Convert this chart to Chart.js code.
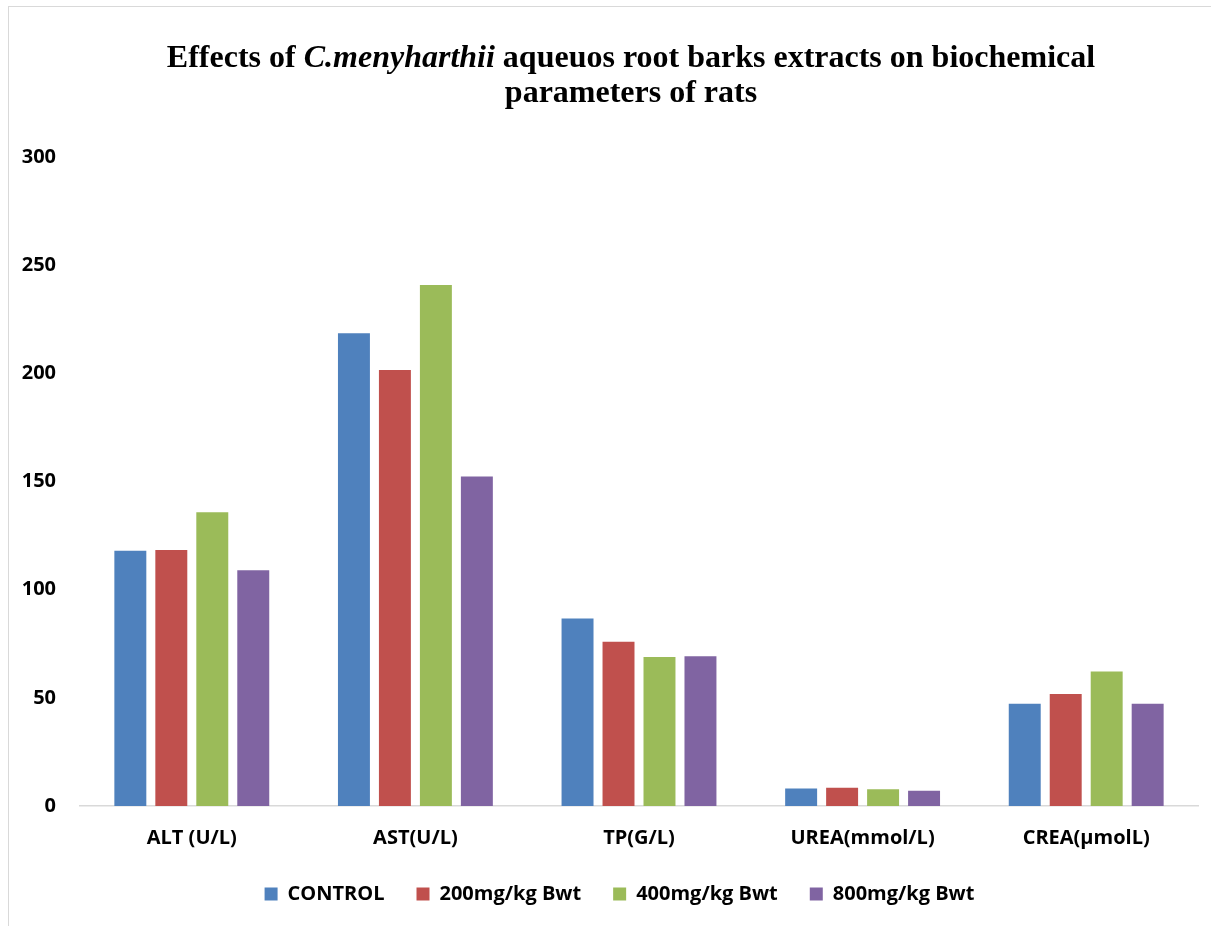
<!DOCTYPE html>
<html>
<head>
<meta charset="utf-8">
<title>Biochemical parameters of rats</title>
<script src="https://cdn.jsdelivr.net/npm/chart.js@4/dist/chart.umd.min.js"></script>
<style>
  html, body { margin: 0; padding: 0; background: #ffffff; }
  #wrap { position: relative; width: 1211px; height: 926px; }
</style>
</head>
<body>
<div id="wrap"><canvas id="chart"></canvas></div>
<script>
// Parameters measured
const categories = ['ALT (U/L)', 'AST(U/L)', 'TP(G/L)', 'UREA(mmol/L)', 'CREA(µmolL)'];

// Group means per treatment
const controlValues = [118.0, 218.5, 86.7, 8.1, 47.3];
const dose200Values = [118.3, 201.5, 75.9, 8.4, 51.8];
const dose400Values = [135.8, 240.8, 68.9, 7.7, 62.2];
const dose800Values = [109.0, 152.3, 69.2, 7.0, 47.3];

const seriesNames = ['CONTROL', '200mg/kg Bwt', '400mg/kg Bwt', '800mg/kg Bwt'];
const seriesColors = ['#4F81BD', '#C0504D', '#9BBB59', '#8064A2'];

// Y axis range and step
const yMin = 0;
const yMax = 300;
const yStep = 50;

// Title, first line mixes upright and italic runs
const titleLine1 = [
  { text: 'Effects of ', italic: false },
  { text: 'C.menyharthii', italic: true },
  { text: ' aqueuos root barks extracts on biochemical', italic: false }
];
const titleLine2 = 'parameters of rats';

const labelFont = { family: '"Open Sans", "DejaVu Sans", sans-serif', size: 20, weight: 'bold' };
const titleFamily = '"Liberation Serif", "Times New Roman", serif';

// Thin frame around the chart area
const framePlugin = {
  id: 'frame',
  beforeDraw(chart) {
    const ctx = chart.ctx;
    ctx.save();
    ctx.fillStyle = '#ffffff';
    ctx.fillRect(0, 0, chart.width, chart.height);
    ctx.strokeStyle = '#d9d9d9';
    ctx.lineWidth = 1;
    ctx.strokeRect(8.5, 6.5, chart.width + 40, chart.height + 40);
    ctx.restore();
  }
};

// Centre the legend row under the plot area rather than the whole canvas
const legendShiftPlugin = {
  id: 'legendShift',
  afterLayout(chart) {
    if (chart.legend) {
      chart.legend.left += 41;
    }
  }
};

// Two-line title with an italic species name
const richTitlePlugin = {
  id: 'richTitle',
  afterDraw(chart) {
    const ctx = chart.ctx;
    const cx = 631;
    ctx.save();
    ctx.fillStyle = '#000000';
    ctx.textBaseline = 'alphabetic';
    ctx.textAlign = 'left';
    const fontFor = (italic) => (italic ? 'italic ' : '') + 'bold 32px ' + titleFamily;
    let total = 0;
    titleLine1.forEach(run => { ctx.font = fontFor(run.italic); total += ctx.measureText(run.text).width; });
    let x = cx - total / 2;
    titleLine1.forEach(run => {
      ctx.font = fontFor(run.italic);
      ctx.fillText(run.text, x, 67);
      x += ctx.measureText(run.text).width;
    });
    ctx.font = fontFor(false);
    ctx.textAlign = 'center';
    ctx.fillText(titleLine2, cx, 102);
    ctx.restore();
  }
};

const datasets = [controlValues, dose200Values, dose400Values, dose800Values].map((values, i) => ({
  label: seriesNames[i],
  data: values,
  backgroundColor: seriesColors[i],
  borderWidth: 0,
  categoryPercentage: 0.733,
  barPercentage: 0.78
}));

new Chart(document.getElementById('chart'), {
  type: 'bar',
  data: { labels: categories, datasets },
  plugins: [framePlugin, legendShiftPlugin, richTitlePlugin],
  options: {
    responsive: true,
    maintainAspectRatio: false,
    animation: false,
    layout: { padding: { top: 157, right: 13, bottom: 12, left: 0 } },
    plugins: {
      title: { display: false },
      tooltip: { enabled: false },
      legend: {
        position: 'bottom',
        labels: {
          boxWidth: 13,
          boxHeight: 13,
          padding: 32,
          color: '#000000',
          font: labelFont
        }
      }
    },
    scales: {
      x: {
        grid: { display: false, drawTicks: false },
        border: { display: true, color: '#d9d9d9', width: 1.5 },
        ticks: { color: '#000000', font: labelFont, padding: 20, maxRotation: 0 },
        afterFit(scale) { scale.height = 46; }
      },
      y: {
        min: yMin,
        max: yMax,
        grid: { display: false, drawTicks: false },
        border: { display: false },
        ticks: { stepSize: yStep, color: '#000000', font: labelFont, padding: 24 },
        afterFit(scale) { scale.width = 80; }
      }
    }
  }
});
</script>
</body>
</html>
